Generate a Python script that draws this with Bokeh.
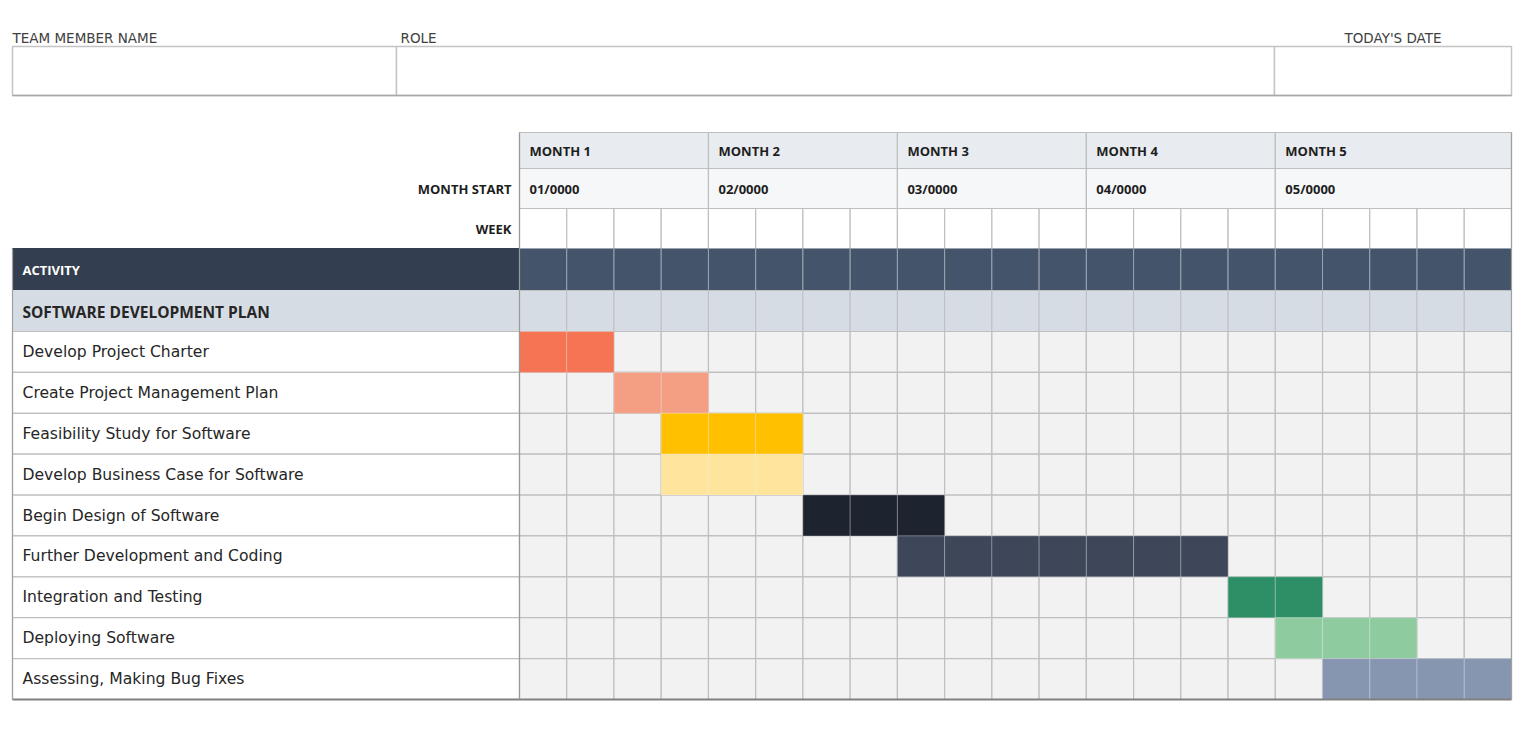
from bokeh.plotting import figure
from bokeh.models import Range1d
from bokeh.core.properties import value
from bokeh.embed import file_html
from bokeh.resources import INLINE

# ---------------- data ----------------
MONTHS = ["MONTH 1", "MONTH 2", "MONTH 3", "MONTH 4", "MONTH 5"]
MONTH_START = ["01/0000", "02/0000", "03/0000", "04/0000", "05/0000"]
MONTH_WEEKS = [4, 4, 4, 4, 5]

TASKS = [
    "Develop Project Charter",
    "Create Project Management Plan",
    "Feasibility Study for Software",
    "Develop Business Case for Software",
    "Begin Design of Software",
    "Further Development and Coding",
    "Integration and Testing",
    "Deploying Software",
    "Assessing, Making Bug Fixes",
]
START_WEEK = [0, 2, 3, 3, 6, 8, 15, 16, 17]
DURATION = [2, 2, 3, 3, 3, 7, 2, 3, 4]
BAR_COLORS = ["#F47454", "#F49E84", "#FFC000", "#FFE59B", "#1E2330",
              "#3D4759", "#2E8F66", "#8ECCA0", "#8796B0"]

FIELDS = ["TEAM MEMBER NAME", "ROLE", "TODAY'S DATE"]
SECTION = "SOFTWARE DEVELOPMENT PLAN"

# ---------------- layout (picture pixels -> data units) ----------------
N_WEEKS = sum(MONTH_WEEKS)
GX0, GX1 = 519.0, 1511.0          # grid left / right (px)
WW = (GX1 - GX0) / N_WEEKS         # week width (px)
RY0, RY1 = 331.0, 699.0            # task rows top / bottom (px)
RH = (RY1 - RY0) / len(TASKS)      # row height (px)


def X(px):
    return (px - GX0) / WW


def Y(py):
    return (py - RY0) / RH


FIG_W, FIG_H = 1520, 740
p = figure(width=FIG_W, height=FIG_H,
           x_range=Range1d(X(0), X(FIG_W)),
           y_range=Range1d(Y(FIG_H), Y(0)),
           output_backend="svg", toolbar_location=None,
           x_axis_location=None, y_axis_location=None, min_border=0)
p.grid.visible = False
p.outline_line_color = None
p.background_fill_color = "white"
p.border_fill_color = "white"

REG = value("DejaVu Sans")
BOLD = value("Open Sans")
GRID = "#BFBFBF"
LEFT = X(12)

# ---------------- top info box ----------------
box_top, box_bot = Y(46), Y(95)
div1, div2 = X(396), X(1274)
p.quad(left=[LEFT, div1, div2], right=[div1, div2, X(1511)],
       top=[box_top] * 3, bottom=[box_bot] * 3,
       fill_color="white", line_color="#C4C4C4", line_width=1.5)
p.segment(x0=[LEFT], x1=[X(1511)], y0=[box_bot], y1=[box_bot],
          line_color="#A8A8A8", line_width=1.5)
p.text(x=[LEFT, div1 + 4 / WW], y=[Y(37.5)] * 2, text=FIELDS[:2],
       text_font=REG, text_font_size="13.5px", text_color="#404040",
       text_baseline="middle", text_align="left")
p.text(x=[(div2 + X(1511)) / 2], y=[Y(37.5)], text=FIELDS[2:],
       text_font=REG, text_font_size="13.5px", text_color="#404040",
       text_baseline="middle", text_align="center")

# ---------------- month header rows ----------------
m_left, m_right = [], []
w = 0
for n in MONTH_WEEKS:
    m_left.append(w)
    m_right.append(w + n)
    w += n

y_m0, y_m1, y_m2, y_wk, y_act = Y(132), Y(168), Y(208), Y(248), Y(290)
y_sec = Y(331)

p.quad(left=m_left, right=m_right, top=[y_m0] * 5, bottom=[y_m1] * 5,
       fill_color="#E8EBEF", line_color=GRID, line_width=1.2)
p.quad(left=m_left, right=m_right, top=[y_m1] * 5, bottom=[y_m2] * 5,
       fill_color="#F6F7F9", line_color=GRID, line_width=1.2)
p.text(x=[l + 10 / WW for l in m_left], y=[(y_m0 + y_m1) / 2 + 0.02] * 5, text=MONTHS,
       text_font=BOLD, text_font_size="13px", text_font_style="bold",
       text_color="#1E1E1E", text_baseline="middle")
p.text(x=[l + 10 / WW for l in m_left], y=[(y_m1 + y_m2) / 2] * 5, text=MONTH_START,
       text_font=BOLD, text_font_size="13px", text_font_style="bold",
       text_color="#1E1E1E", text_baseline="middle")
p.text(x=[-8 / WW] * 2, y=[(y_m1 + y_m2) / 2, (y_m2 + y_wk) / 2],
       text=["MONTH START", "WEEK"],
       text_font=BOLD, text_font_size="13px", text_font_style="bold",
       text_color="#1E1E1E", text_baseline="middle", text_align="right")

weeks = list(range(N_WEEKS))
wl = weeks
wr = [k + 1 for k in weeks]

# week row
p.quad(left=wl, right=wr, top=[y_m2] * N_WEEKS, bottom=[y_wk] * N_WEEKS,
       fill_color="white", line_color=GRID, line_width=1.2)

# activity row
p.quad(left=[LEFT], right=[0], top=[y_wk], bottom=[y_act],
       fill_color="#333F50", line_color="#333F50")
p.quad(left=wl, right=wr, top=[y_wk] * N_WEEKS, bottom=[y_act] * N_WEEKS,
       fill_color="#44546A", line_color="#9AA3B0", line_width=1)
p.text(x=[X(22)], y=[(y_wk + y_act) / 2], text=["ACTIVITY"],
       text_font=BOLD, text_font_size="13px", text_font_style="bold",
       text_color="white", text_baseline="middle")

# section row
p.quad(left=[LEFT], right=[0], top=[y_act], bottom=[y_sec],
       fill_color="#D6DCE4", line_color="#D6DCE4")
p.quad(left=wl, right=wr, top=[y_act] * N_WEEKS, bottom=[y_sec] * N_WEEKS,
       fill_color="#D6DCE4", line_color=GRID, line_width=1)
p.text(x=[X(22)], y=[(y_act + y_sec) / 2 + 0.02], text=[SECTION],
       text_font=BOLD, text_font_size="15.5px", text_font_style="bold",
       text_color="#262626", text_baseline="middle")

# ---------------- task rows ----------------
rows = list(range(len(TASKS)))
p.quad(left=[LEFT] * len(TASKS), right=[0] * len(TASKS),
       top=rows, bottom=[r + 1 for r in rows],
       fill_color="white", line_color=GRID, line_width=1.2)
cl, cr, ct, cb = [], [], [], []
for r in rows:
    for k in weeks:
        cl.append(k); cr.append(k + 1); ct.append(r); cb.append(r + 1)
p.quad(left=cl, right=cr, top=ct, bottom=cb,
       fill_color="#F2F2F2", line_color=GRID, line_width=1.2)

# bars (one cell per week of each task)
bl, br, bt, bb, bc = [], [], [], [], []
for r, (s, d, c) in enumerate(zip(START_WEEK, DURATION, BAR_COLORS)):
    for k in range(s, s + d):
        bl.append(k); br.append(k + 1); bt.append(r); bb.append(r + 1); bc.append(c)
p.quad(left=bl, right=br, top=bt, bottom=bb, fill_color=bc,
       line_color="white", line_alpha=0.25, line_width=1)

p.text(x=[X(22)] * len(TASKS), y=[r + 0.5 for r in rows], text=TASKS,
       text_font=REG, text_font_size="15.6px", text_color="#262626",
       text_baseline="middle")

# outer borders
p.segment(x0=[LEFT], x1=[N_WEEKS], y0=[len(TASKS)], y1=[len(TASKS)],
          line_color="#808080", line_width=2)
p.segment(x0=[LEFT, N_WEEKS], x1=[LEFT, N_WEEKS], y0=[y_wk, y_m0], y1=[len(TASKS), len(TASKS)],
          line_color="#A0A0A0", line_width=1.2)
p.segment(x0=[0], x1=[0], y0=[y_m0], y1=[len(TASKS)],
          line_color="#999999", line_width=1.2)

open("out.html", "w").write(file_html(p, INLINE))
